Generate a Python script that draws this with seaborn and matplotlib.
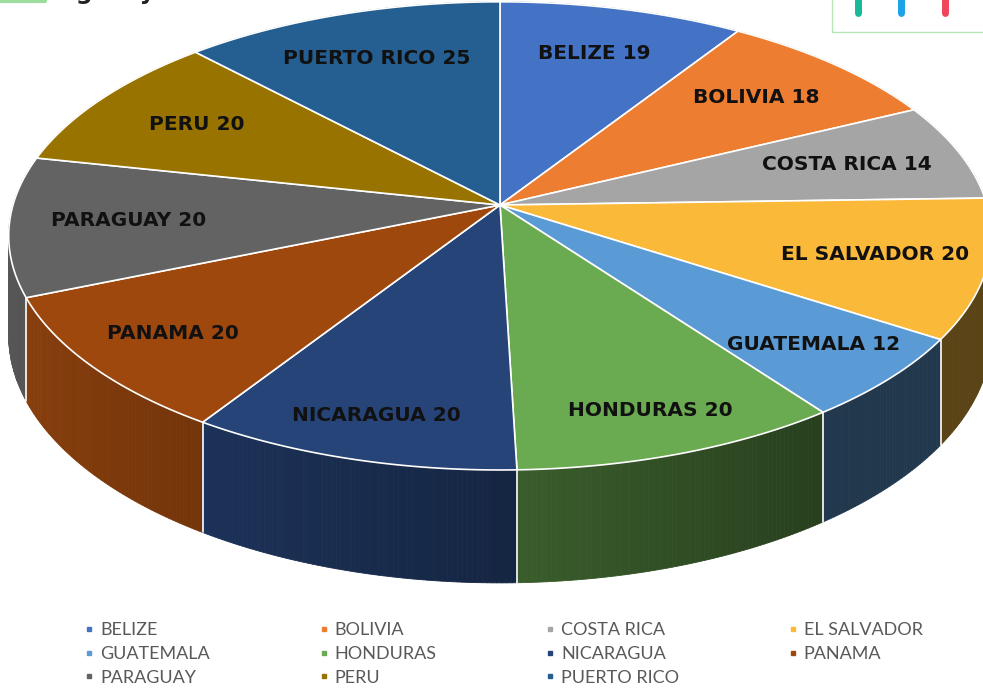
import numpy as np
import seaborn as sns
import matplotlib
matplotlib.use("Agg")
import matplotlib.pyplot as plt
from matplotlib.patches import Polygon, Rectangle
from matplotlib.lines import Line2D

countries = ["BELIZE", "BOLIVIA", "COSTA RICA", "EL SALVADOR", "GUATEMALA", "HONDURAS",
             "NICARAGUA", "PANAMA", "PARAGUAY", "PERU", "PUERTO RICO"]
counts = [19, 18, 14, 20, 12, 20, 20, 20, 20, 20, 25]
slice_colors = ["#4472C4", "#ED7D31", "#A5A5A5", "#FBB93A", "#5B9BD5", "#6AAA50",
                "#264478", "#9E480E", "#636363", "#997300", "#255E91"]

sns.set_style("white")
palette = sns.color_palette(slice_colors)

# perspective of the tilted disc, in pixels of the picture
CX, CY = 500, 205
RX, RY = 487, 230
K = 0.132
DEPTH = 98


def proj(u, v, down=False):
    d = 1 + K * v
    x = CX + RX * u / d
    y = CY - RY * v / d
    if down:
        y = y + DEPTH / d
    return x, y


fig = plt.figure(figsize=(9.83, 6.88), dpi=100)
ax = fig.add_axes([0, 0, 1, 1])
ax.set_xlim(0, 983)
ax.set_ylim(688, 0)
ax.axis("off")

total = sum(counts)
edges = np.concatenate([[0], np.cumsum(counts)]) / total * 2 * np.pi

# side walls, far pieces first
walls = []
for i in range(len(counts)):
    n = max(int(np.degrees(edges[i + 1] - edges[i]) * 2), 2)
    phis = np.linspace(edges[i], edges[i + 1], n)
    for a, b in zip(phis[:-1], phis[1:]):
        m = (a + b) / 2
        shade = np.clip(0.56 - 0.32 * np.sin(m), 0.36, 0.9)
        col = tuple(np.array(palette[i]) * shade)
        pts = [proj(np.sin(a), np.cos(a)), proj(np.sin(b), np.cos(b)),
               proj(np.sin(b), np.cos(b), True), proj(np.sin(a), np.cos(a), True)]
        walls.append((np.cos(m), pts, col))
walls.sort(key=lambda w: -w[0])
for _, pts, col in walls:
    ax.add_patch(Polygon(pts, closed=True, facecolor=col, edgecolor=col, lw=0.6, zorder=1))

for e in edges[:-1]:
    if np.cos(e) < 0.05:
        x0, y0 = proj(np.sin(e), np.cos(e))
        x1, y1 = proj(np.sin(e), np.cos(e), True)
        ax.plot([x0, x1], [y0, y1], color="white", lw=1.2, zorder=2)

# top face
for i in range(len(counts)):
    phis = np.linspace(edges[i], edges[i + 1], 120)
    pts = [proj(0, 0)] + [proj(np.sin(p), np.cos(p)) for p in phis]
    ax.add_patch(Polygon(pts, closed=True, facecolor=palette[i], edgecolor="white",
                         lw=1.2, zorder=3))

# data labels
for i in range(len(counts)):
    m = (edges[i] + edges[i + 1]) / 2
    rho = 0.75 + 0.1 * max(0, -np.cos(m))
    x, y = proj(rho * np.sin(m), rho * np.cos(m))
    ax.text(x, y, f"{countries[i]} {counts[i]}", ha="center", va="center",
            fontsize=14.5, fontweight="bold", color="#111111", family="DejaVu Sans", zorder=5)

# legend, row by row
order = [0, 4, 8, 1, 5, 9, 2, 6, 10, 3, 7]
handles = [Line2D([], [], marker="s", ls="", color=palette[i], markersize=3.5,
                  label=countries[i]) for i in order]
fig.legend(handles=handles, ncol=4, loc="center", bbox_to_anchor=(0.512, 1 - 654 / 688),
           frameon=False, prop={"family": "Lato", "size": 13}, labelcolor="#595959",
           handlelength=0.6, handletextpad=0.3, columnspacing=6.0, labelspacing=0.42)

# bits of the surrounding page cut by the screenshot
ax.plot([0, 45], [0.5, 0.5], color="#9ddc9d", lw=3, zorder=6)
ax.text(60, -1, "agency", fontsize=17, fontweight="bold", color="#222222",
        va="baseline", clip_on=True, zorder=6)
ax.add_patch(Rectangle((832, -5), 170, 37, facecolor="white", edgecolor="#b5e6b5", lw=1, zorder=6))
for bx, bc in zip([858, 901, 945], ["#18b89a", "#1aa3e8", "#f0455a"]):
    ax.plot([bx, bx], [0, 13], color=bc, lw=5, solid_capstyle="round", zorder=7)

fig.savefig("out.png", dpi=100)
